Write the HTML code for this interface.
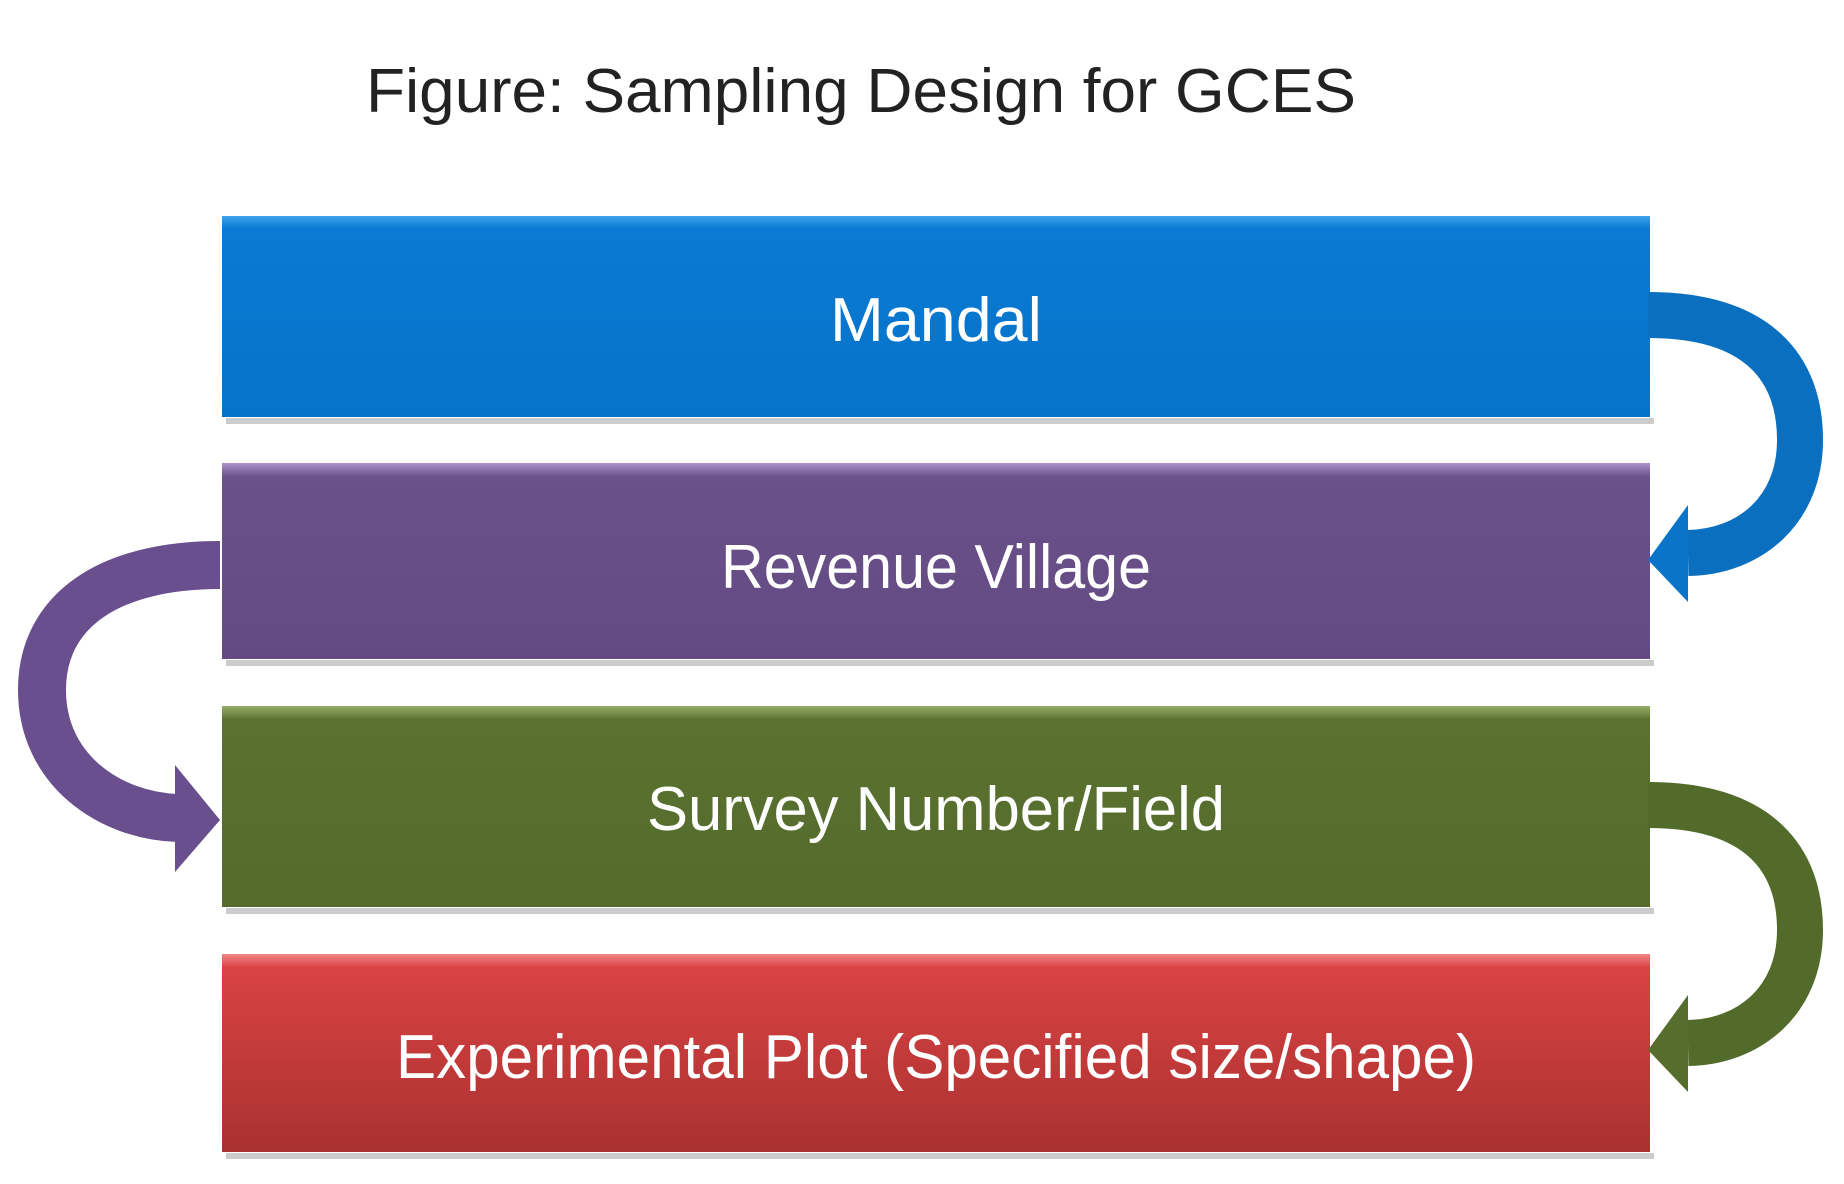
<!DOCTYPE html>
<html><head><style>
html,body{margin:0;padding:0;background:#fff;}
svg{display:block}
</style></head><body>
<svg width="1844" height="1184" viewBox="0 0 1844 1184" xmlns="http://www.w3.org/2000/svg">
<defs>
<linearGradient id="gb" x1="0" y1="0" x2="0" y2="1"><stop offset="0" stop-color="#3fa4ee"/><stop offset="0.06" stop-color="#0a7ad4"/><stop offset="1" stop-color="#0673c8"/></linearGradient>
<linearGradient id="gp" x1="0" y1="0" x2="0" y2="1"><stop offset="0" stop-color="#ae93cc"/><stop offset="0.07" stop-color="#6b5189"/><stop offset="1" stop-color="#634a83"/></linearGradient>
<linearGradient id="gg" x1="0" y1="0" x2="0" y2="1"><stop offset="0" stop-color="#93ad65"/><stop offset="0.07" stop-color="#5a722f"/><stop offset="1" stop-color="#546b2c"/></linearGradient>
<linearGradient id="gr" x1="0" y1="0" x2="0" y2="1"><stop offset="0" stop-color="#f08585"/><stop offset="0.07" stop-color="#d94242"/><stop offset="1" stop-color="#aa3131"/></linearGradient>
</defs>
<text x="366" y="112" font-family="Liberation Sans, sans-serif" font-size="62" fill="#222" textLength="990" lengthAdjust="spacingAndGlyphs">Figure: Sampling Design for GCES</text>

<g fill="#ccc"><rect x="226" y="418" width="1428" height="6"/><rect x="226" y="660" width="1428" height="6"/><rect x="226" y="908" width="1428" height="6"/><rect x="226" y="1153" width="1428" height="6"/></g>
<rect x="222" y="216" width="1428" height="201" fill="url(#gb)"/>
<rect x="222" y="463" width="1428" height="196" fill="url(#gp)"/>
<rect x="222" y="706" width="1428" height="201" fill="url(#gg)"/>
<rect x="222" y="954" width="1428" height="198" fill="url(#gr)"/>

<g font-family="Liberation Sans, sans-serif" font-size="62" fill="#fff" text-anchor="middle">
<text x="936" y="341" textLength="212" lengthAdjust="spacingAndGlyphs">Mandal</text>
<text x="936" y="588" textLength="430" lengthAdjust="spacingAndGlyphs">Revenue Village</text>
<text x="936" y="830" textLength="578" lengthAdjust="spacingAndGlyphs">Survey Number/Field</text>
<text x="936" y="1078" textLength="1080" lengthAdjust="spacingAndGlyphs">Experimental Plot (Specified size/shape)</text>
</g>

<!-- blue arrow -->
<path d="M1648,315 C1760,315 1800,370 1800,440 C1800,510 1750,552 1688,553" fill="none" stroke="#0a6fbf" stroke-width="46"/>
<polygon points="1648,560 1688,505 1688,602" fill="#0a74c8"/>
<!-- purple arrow -->
<path d="M220,565 C110,565 42,610 42,690 C42,770 110,816 178,818" fill="none" stroke="#6a4f8e" stroke-width="48"/>
<polygon points="220,820 175,765 175,872" fill="#6a4f8e"/>
<!-- green arrow -->
<path d="M1648,805 C1760,805 1800,860 1800,930 C1800,1000 1750,1042 1688,1043" fill="none" stroke="#526a2a" stroke-width="46"/>
<polygon points="1648,1050 1688,995 1688,1092" fill="#566e2d"/>
</svg>
</body></html>
